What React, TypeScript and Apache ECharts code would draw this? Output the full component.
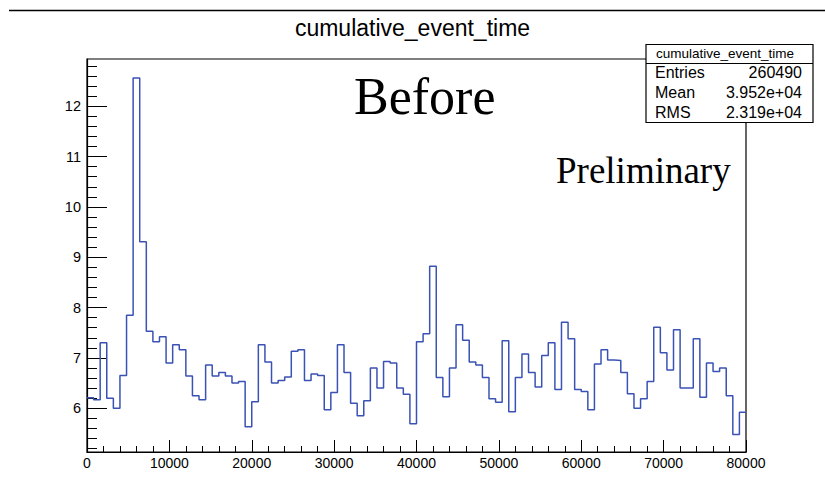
import React, { useEffect, useRef } from "react";
import * as echarts from "echarts";

const binWidth = 800;
const binValues = [
  6.21, 6.17, 7.30, 6.20, 6.00, 6.65, 7.85, 12.56, 9.31, 7.53,
  7.32, 7.42, 6.90, 7.26, 7.16, 6.64, 6.25, 6.17, 6.86, 6.64,
  6.71, 6.64, 6.50, 6.53, 5.63, 6.13, 7.26, 6.92, 6.50, 6.55,
  6.62, 7.13, 7.16, 6.55, 6.68, 6.65, 5.97, 6.31, 7.26, 6.71,
  6.10, 5.85, 6.15, 6.80, 6.40, 6.93, 6.90, 6.40, 6.28, 5.69,
  7.32, 7.48, 8.82, 6.61, 6.23, 6.80, 7.66, 7.35, 6.92, 6.86,
  6.61, 6.19, 6.12, 7.34, 5.93, 6.61, 7.08, 6.71, 6.42, 7.05,
  7.30, 6.37, 7.71, 7.38, 6.37, 6.33, 5.97, 6.88, 7.16, 6.96,
  6.95, 6.71, 6.29, 6.00, 6.19, 6.53, 7.61, 7.10, 6.76, 7.56,
  6.40, 6.40, 7.38, 6.22, 6.90, 6.73, 6.80, 6.25, 5.48, 5.92,
];
const yMajorTicks = [6, 7, 8, 9, 10, 11, 12];
const statsLabels = ["Entries", "Mean", "RMS"];
const statsValues = ["260490", "3.952e+04", "2.319e+04"];

const SANS = "'Liberation Sans', Arial, Helvetica, sans-serif";
const SERIF = "'Liberation Serif', 'Times New Roman', serif";

export default function App() {
  const ref = useRef<HTMLDivElement>(null);
  useEffect(() => {
    if (!ref.current) return;
    const chart = echarts.init(ref.current, null, { renderer: "svg" });
    const points: number[][] = binValues.map((v, i) => [i * binWidth, v]);
    points.push([binValues.length * binWidth, binValues[binValues.length - 1]]);

    const yMin = 5.13;
    const yMax = 12.94;
    const minorY: number[] = [];
    for (let k = 26; k <= 64; k++) {
      if (k % 5 !== 0) minorY.push(k / 5);
    }

    const statsRows: any[] = [];
    statsLabels.forEach((lab, i) => {
      statsRows.push({
        type: "text",
        left: 655,
        top: 73.5 + i * 20 - 9,
        z: 102,
        style: { text: lab, font: `16px ${SANS}`, fill: "#000" },
      });
      statsRows.push({
        type: "text",
        right: 825 - 802,
        top: 73.5 + i * 20 - 9,
        z: 102,
        style: { text: statsValues[i], font: `16px ${SANS}`, fill: "#000", align: "right" },
      });
    });

    chart.setOption({
      animation: false,
      backgroundColor: "#fff",
      grid: {
        left: 87,
        right: 79,
        top: 59,
        bottom: 48,
        show: true,
        borderColor: "#000",
        borderWidth: 1.2,
        backgroundColor: "transparent",
      },
      xAxis: {
        type: "value",
        min: 0,
        max: 80000,
        interval: 10000,
        axisLine: { show: true, lineStyle: { color: "#000", width: 1.2 } },
        axisTick: { show: true, inside: true, length: 12, lineStyle: { color: "#000" } },
        minorTick: { show: true, splitNumber: 5, length: 6, lineStyle: { color: "#000" } },
        axisLabel: {
          fontSize: 14,
          fontFamily: SANS,
          color: "#000",
          margin: 4,
          showMaxLabel: true,
          showMinLabel: true,
          formatter: (v: number) => String(v),
        },
        splitLine: { show: false },
        minorSplitLine: { show: false },
      },
      yAxis: [
        {
          type: "value",
          min: yMin,
          max: yMax,
          axisLine: { show: true, lineStyle: { color: "#000", width: 1.2 } },
          axisTick: { show: true, inside: true, length: 20, customValues: yMajorTicks, lineStyle: { color: "#000" } },
          axisLabel: { customValues: yMajorTicks, fontSize: 14.5, fontFamily: SANS, color: "#000", margin: 6 },
          splitLine: { show: false },
        },
        {
          type: "value",
          min: yMin,
          max: yMax,
          position: "left",
          axisLine: { show: false },
          axisTick: { show: true, inside: true, length: 10, customValues: minorY, lineStyle: { color: "#000" } },
          axisLabel: { show: false },
          splitLine: { show: false },
        },
      ],
      series: [
        {
          type: "line",
          step: "end",
          data: points,
          yAxisIndex: 0,
          symbol: "none",
          lineStyle: { color: "#3a52b4", width: 1.5 },
          clip: true,
        },
      ],
      graphic: [
        {
          type: "line",
          z: 100,
          shape: { x1: 9, y1: 10.5, x2: 825, y2: 10.5 },
          style: { stroke: "#000", lineWidth: 1.5 },
        },
        {
          type: "text",
          left: "center",
          top: 16,
          z: 100,
          style: { text: "cumulative_event_time", font: `23px ${SANS}`, fill: "#000" },
        },
        {
          type: "text",
          left: 354,
          top: 70,
          z: 100,
          style: { text: "Before", font: `52px ${SERIF}`, fill: "#000" },
        },
        {
          type: "text",
          left: 556,
          top: 152,
          z: 100,
          style: { text: "Preliminary", font: `37px ${SERIF}`, fill: "#000" },
        },
        {
          type: "rect",
          z: 101,
          shape: { x: 646, y: 44.5, width: 167, height: 78 },
          style: { fill: "#fff", stroke: "#000", lineWidth: 1.2 },
        },
        {
          type: "line",
          z: 102,
          shape: { x1: 646, y1: 63.5, x2: 813, y2: 63.5 },
          style: { stroke: "#000", lineWidth: 1.2 },
        },
        {
          type: "text",
          left: 656,
          top: 46.5,
          z: 102,
          style: { text: "cumulative_event_time", font: `13.5px ${SANS}`, fill: "#000" },
        },
        ...statsRows,
      ],
    });
    return () => chart.dispose();
  }, []);
  return (
    <div
      ref={ref}
      style={{ position: "fixed", left: 0, top: 0, width: 825, height: 500 }}
    />
  );
}
